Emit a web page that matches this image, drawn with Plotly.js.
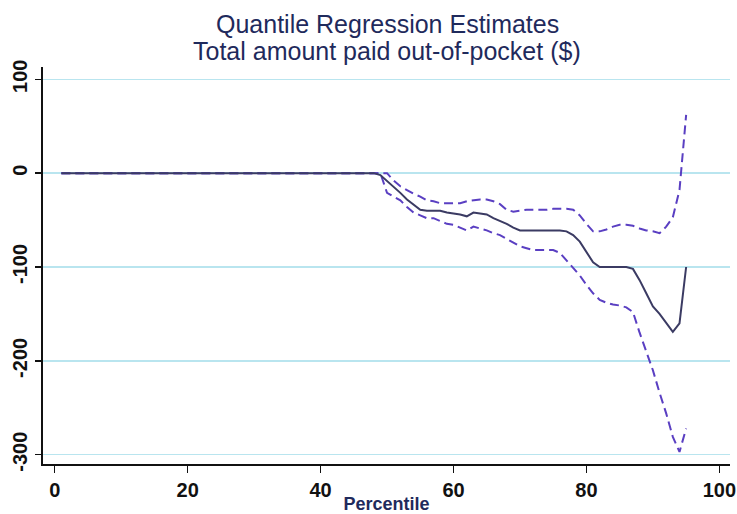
<!DOCTYPE html>
<html>
<head>
<meta charset="utf-8">
<script src="https://cdn.plot.ly/plotly-3.0.1.min.js"></script>
<style>html,body{margin:0;padding:0;background:#fff;}#chart{width:737px;height:514px;}</style>
</head>
<body>
<div id="chart"></div>
<script>
var percentiles = [1,2,3,4,5,6,7,8,9,10,11,12,13,14,15,16,17,18,19,20,21,22,23,24,25,26,27,28,29,30,31,32,33,34,35,36,37,38,39,40,41,42,43,44,45,46,47,48,49,50,51,52,53,54,55,56,57,58,59,60,61,62,63,64,65,66,67,68,69,70,71,72,73,74,75,76,77,78,79,80,81,82,83,84,85,86,87,88,89,90,91,92,93,94,95];

var estimate = [0,0,0,0,0,0,0,0,0,0,0,0,0,0,0,0,0,0,0,0,0,0,0,0,0,0,0,0,0,0,0,0,0,0,0,0,0,0,0,0,0,0,0,0,0,0,0,0,
  -2,-8,-15,-21,-28,-34,-39,-40,-40,-40,-42,-43,-44,-46,-42,-43,-44,-48,-51,-54,-58,-61,-61,-61,-61,-61,-61,-61,
  -62,-66,-73,-84,-95,-100,-100,-100,-100,-100,-102,-114,-128,-142,-150,-160,-169,-160,-100];

var upperCI = [0,0,0,0,0,0,0,0,0,0,0,0,0,0,0,0,0,0,0,0,0,0,0,0,0,0,0,0,0,0,0,0,0,0,0,0,0,0,0,0,0,0,0,0,0,0,0,0,
  0,0,-8,-14,-18,-22,-25,-29,-30,-32,-32,-32,-32,-30,-29,-28,-28,-30,-33,-39,-41,-40,-39,-39,-39,-39,-38,-38,
  -38,-39,-45,-54,-62,-62,-60,-57,-55,-55,-56,-59,-61,-62,-64,-57,-47,-18,62];

var lowerCI = [0,0,0,0,0,0,0,0,0,0,0,0,0,0,0,0,0,0,0,0,0,0,0,0,0,0,0,0,0,0,0,0,0,0,0,0,0,0,0,0,0,0,0,0,0,0,0,0,
  0,-21,-25,-29,-36,-42,-45,-48,-48,-51,-54,-55,-58,-61,-57,-59,-61,-64,-66,-70,-74,-78,-80,-82,-82,-82,-82,-85,
  -93,-101,-109,-119,-128,-135,-138,-140,-141,-143,-148,-170,-190,-210,-234,-256,-281,-297,-272];

var xTicks = [0, 20, 40, 60, 80, 100];
var yTicks = [-300, -200, -100, 0, 100];
var titleLine1 = "Quantile Regression Estimates";
var titleLine2 = "Total amount paid out-of-pocket ($)";
var xTitle = "Percentile";

var ciStyle = {color: '#5a3fc2', width: 2, dash: '9px,5px'};

var traces = [
  {x: percentiles, y: upperCI, type: 'scatter', mode: 'lines', line: ciStyle, hoverinfo: 'skip', showlegend: false},
  {x: percentiles, y: lowerCI, type: 'scatter', mode: 'lines', line: ciStyle, hoverinfo: 'skip', showlegend: false},
  {x: percentiles, y: estimate, type: 'scatter', mode: 'lines', line: {color: '#3b3b63', width: 2}, showlegend: false}
];

var tickFont = {family: 'Arial, "Liberation Sans", sans-serif', size: 20, color: '#111', weight: 'bold'};

var layout = {
  width: 737, height: 514,
  margin: {l: 43, r: 7, t: 67, b: 50, pad: 0},
  paper_bgcolor: '#ffffff', plot_bgcolor: '#ffffff',
  showlegend: false,
  xaxis: {
    range: [-1.76, 101.6], tickvals: xTicks, ticktext: xTicks.map(String),
    showgrid: false, zeroline: false, showline: true, linecolor: '#111', linewidth: 2,
    ticks: 'outside', ticklen: 7, tickwidth: 1.5, tickcolor: '#111',
    tickfont: tickFont, automargin: false,
    title: {text: xTitle, font: {family: 'Arial, "Liberation Sans", sans-serif', size: 18, color: '#1f2a5c', weight: 'bold'}, standoff: 0}
  },
  yaxis: {
    range: [-309.9, 113.1], tickvals: yTicks, ticktext: yTicks.map(String),
    showgrid: true, gridcolor: '#b9e5ef', gridwidth: 1.5,
    zeroline: false, showline: true, linecolor: '#111', linewidth: 2,
    ticks: 'outside', ticklen: 6, tickwidth: 1.5, tickcolor: '#111',
    tickfont: tickFont, tickangle: -90, automargin: false
  },
  annotations: [
    {text: titleLine1, xref: 'paper', yref: 'paper', x: 0.5008, y: 1.108, xanchor: 'center', yanchor: 'middle', showarrow: false,
     font: {family: 'Arial, "Liberation Sans", sans-serif', size: 25, color: '#1f2a5c'}},
    {text: titleLine2, xref: 'paper', yref: 'paper', x: 0.5008, y: 1.040, xanchor: 'center', yanchor: 'middle', showarrow: false,
     font: {family: 'Arial, "Liberation Sans", sans-serif', size: 25, color: '#1f2a5c'}}
  ]
};

Plotly.newPlot('chart', traces, layout, {displayModeBar: false, staticPlot: true});
</script>
</body>
</html>
